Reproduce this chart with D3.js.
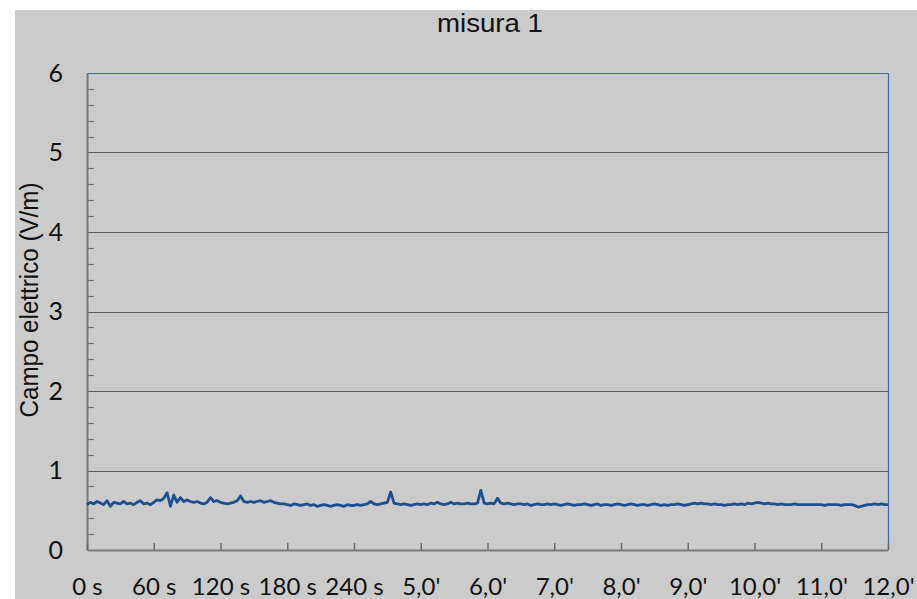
<!DOCTYPE html>
<html>
<head>
<meta charset="utf-8">
<script src="https://cdn.jsdelivr.net/npm/d3@7"></script>
<style>
  html, body { margin: 0; padding: 0; background: #ffffff; }
  svg { display: block; }
</style>
</head>
<body>
<div id="chart"></div>
<script>
// ********** misura 1 - campo elettrico **********

const width = 917, height = 599;

// Sample step (seconds) and readings (V/m), one every 3 s from 0 to 720 s
const stepSec = 3;
const fieldValues = [
	0.57,0.60,0.58,0.61,0.59,0.57,0.62,0.55,0.60,0.59,0.58,0.61,0.58,0.59,0.57,0.60,0.62,0.58,0.59,0.57,
	0.60,0.63,0.62,0.65,0.72,0.55,0.69,0.60,0.66,0.61,0.63,0.61,0.60,0.61,0.59,0.58,0.60,0.66,0.61,0.62,
	0.60,0.59,0.58,0.59,0.60,0.62,0.68,0.61,0.60,0.61,0.60,0.61,0.62,0.60,0.61,0.62,0.60,0.59,0.58,0.58,
	0.57,0.56,0.58,0.57,0.56,0.57,0.58,0.56,0.57,0.55,0.56,0.57,0.56,0.55,0.56,0.57,0.56,0.55,0.57,0.56,
	0.56,0.57,0.56,0.57,0.58,0.61,0.58,0.57,0.58,0.59,0.60,0.73,0.59,0.58,0.57,0.58,0.57,0.56,0.57,0.58,
	0.57,0.58,0.57,0.59,0.58,0.60,0.58,0.57,0.58,0.60,0.58,0.59,0.58,0.58,0.59,0.58,0.58,0.59,0.75,0.59,
	0.58,0.59,0.58,0.65,0.59,0.58,0.59,0.58,0.57,0.58,0.58,0.57,0.58,0.56,0.57,0.58,0.57,0.57,0.58,0.57,
	0.58,0.57,0.56,0.57,0.58,0.57,0.56,0.57,0.57,0.58,0.57,0.56,0.57,0.58,0.56,0.57,0.57,0.56,0.57,0.58,
	0.57,0.56,0.57,0.58,0.57,0.56,0.57,0.57,0.56,0.57,0.58,0.57,0.56,0.57,0.56,0.57,0.57,0.58,0.57,0.56,
	0.57,0.58,0.59,0.58,0.59,0.58,0.58,0.57,0.58,0.57,0.57,0.56,0.57,0.57,0.58,0.57,0.58,0.57,0.59,0.58,
	0.59,0.60,0.59,0.58,0.59,0.58,0.58,0.57,0.58,0.57,0.57,0.57,0.58,0.57,0.57,0.57,0.57,0.57,0.57,0.57,
	0.57,0.56,0.57,0.57,0.57,0.57,0.56,0.57,0.57,0.57,0.56,0.54,0.55,0.56,0.57,0.57,0.58,0.57,0.58,0.57,
	0.57
];

// Axis ticks
const xTickValues = [0,60,120,180,240,300,360,420,480,540,600,660,720];
const xTickLabels = ['0 s','60 s','120 s','180 s','240 s',"5,0'","6,0'","7,0'","8,0'","9,0'","10,0'","11,0'","12,0'"];
const yTickValues = [0,1,2,3,4,5,6];
const yMinorTicks = d3.range(0, 30).map(i => i / 5).filter(v => v % 1 !== 0);

const titleText = 'misura 1';
const yLabelText = 'Campo elettrico (V/m)';

// Plot area
const plot = { left: 87, right: 888, top: 73, bottom: 550 };

const svg = d3.select('#chart')
	.append('svg')
	.attr('width', width)
	.attr('height', height);

// Grey chart background (white strip at top and left)
svg.append('rect')
	.attr('x', 15)
	.attr('y', 10)
	.attr('width', width - 15)
	.attr('height', height - 10)
	.attr('fill', '#cbcbcb');

const x = d3.scaleLinear().domain([0, 720]).range([plot.left, plot.right]);
const y = d3.scaleLinear().domain([0, 6]).range([plot.bottom, plot.top]);

// Horizontal gridlines
svg.append('g')
	.selectAll('line')
	.data(yTickValues.filter(v => v > 0 && v < 6))
	.enter()
	.append('line')
	.attr('x1', plot.left)
	.attr('x2', plot.right)
	.attr('y1', d => Math.round(y(d)) + 0.5)
	.attr('y2', d => Math.round(y(d)) + 0.5)
	.attr('stroke', '#5a5a5a')
	.attr('stroke-width', 1.2);

// Top and right frame (blue)
svg.append('path')
	.attr('d', `M${plot.left},${plot.top + 0.5}H${plot.right + 0.5}V${plot.bottom}`)
	.attr('fill', 'none')
	.attr('stroke', '#3d6ea8')
	.attr('stroke-width', 1.2);

// Y axis: minor ticks inside
svg.append('g')
	.selectAll('line')
	.data(yMinorTicks)
	.enter()
	.append('line')
	.attr('x1', plot.left)
	.attr('x2', plot.left + 7)
	.attr('y1', d => Math.round(y(d)) + 0.5)
	.attr('y2', d => Math.round(y(d)) + 0.5)
	.attr('stroke', '#6e6e6e')
	.attr('stroke-width', 1.2);

const yAxis = svg.append('g')
	.attr('transform', `translate(${plot.left},0)`)
	.call(d3.axisLeft(y).tickValues(yTickValues).tickSize(0).tickPadding(24).tickFormat(d3.format('d')));
yAxis.select('.domain').attr('stroke', '#7a7a7a').attr('stroke-width', 2);
yAxis.selectAll('text')
	.attr('fill', '#111')
	.style('font-family', 'Lato, "Open Sans", sans-serif')
	.style('font-size', '25px');

// X axis: ticks pointing up into the plot
const xAxis = svg.append('g')
	.attr('transform', `translate(0,${plot.bottom})`)
	.call(d3.axisBottom(x)
		.tickValues(xTickValues)
		.tickSizeInner(-7)
		.tickSizeOuter(0)
		.tickPadding(28)
		.tickFormat((d, i) => xTickLabels[i]));
xAxis.select('.domain').attr('stroke', '#7a7a7a').attr('stroke-width', 2);
xAxis.selectAll('line').attr('stroke', '#6e6e6e').attr('stroke-width', 1.5);
xAxis.selectAll('text')
	.attr('fill', '#111')
	.style('font-family', 'Lato, "Open Sans", sans-serif')
	.style('font-size', '24px');

// Data line
const line = d3.line()
	.x((d, i) => x(i * stepSec))
	.y(d => y(d));

svg.append('path')
	.datum(fieldValues)
	.attr('d', line)
	.attr('fill', 'none')
	.attr('stroke', '#1f4f8f')
	.attr('stroke-width', 2.8)
	.attr('stroke-linejoin', 'round');

// Title
svg.append('text')
	.attr('x', 490)
	.attr('y', 32)
	.attr('text-anchor', 'middle')
	.attr('textLength', 106)
	.attr('lengthAdjust', 'spacingAndGlyphs')
	.style('font-family', '"Liberation Sans Narrow", "Liberation Sans", Arial, sans-serif')
	.style('font-size', '25px')
	.attr('fill', '#111')
	.text(titleText);

// Y axis label
svg.append('text')
	.attr('transform', 'translate(38,300) rotate(-90)')
	.attr('text-anchor', 'middle')
	.attr('textLength', 235)
	.attr('lengthAdjust', 'spacingAndGlyphs')
	.style('font-family', '"Liberation Sans", "Open Sans", sans-serif')
	.style('font-size', '25px')
	.attr('fill', '#111')
	.text(yLabelText);
</script>
</body>
</html>
